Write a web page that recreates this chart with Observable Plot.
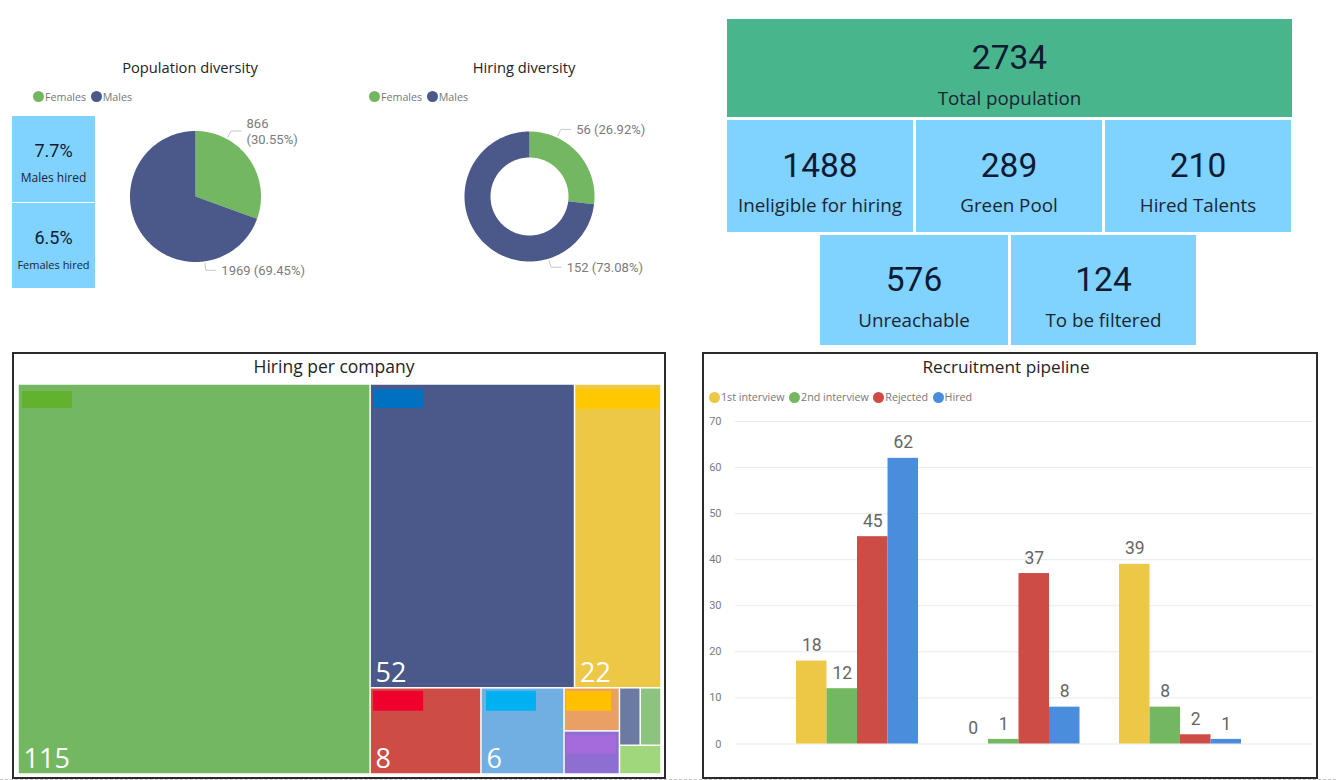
<!DOCTYPE html>
<html>
<head>
<meta charset="utf-8">
<script src="https://cdn.jsdelivr.net/npm/d3@7"></script>
<script src="https://cdn.jsdelivr.net/npm/@observablehq/plot@0.6"></script>
<style>
html,body{margin:0;padding:0;background:#fff;width:1336px;height:780px;overflow:hidden;}
body{font-family:"Open Sans","Noto Sans",sans-serif;position:relative;}
.abs{position:absolute;}
.title{text-align:center;color:#252423;white-space:nowrap;}
.frame{border:2px solid #2b2b2b;box-sizing:border-box;background:#fff;}
.legend{display:flex;align-items:center;font-size:10.7px;color:#777;white-space:nowrap;}
.legend i{display:inline-block;width:11px;height:11px;border-radius:50%;margin-right:1px;}
.legend span{margin-right:4.5px;}
.card{text-align:center;color:#111a33;box-sizing:border-box;}
.card .num{position:absolute;left:0;right:0;font-family:Roboto,sans-serif;line-height:1;transform:translateY(-50%);}
.card .lab{position:absolute;left:0;right:0;line-height:1;transform:translateY(-50%);white-space:nowrap;color:#1d2433;}
.fold{border-top:1px dashed #c4c4c4;}
svg{display:block;overflow:visible;}
</style>
</head>
<body>
<script>
// ---------- DATA ----------
const sexNames = ["Females", "Males"];
const sexColors = ["#73B761", "#4A588A"];
const populationValues = [866, 1969];
const populationLabels = ["866\n(30.55%)", "1969 (69.45%)"];
const hiringValues = [56, 152];
const hiringLabels = ["56 (26.92%)", "152 (73.08%)"];
const rateValues = ["7.7%", "6.5%"];
const rateNames = ["Males hired", "Females hired"];
const kpiValues = ["2734", "1488", "289", "210", "576", "124"];
const kpiNames = ["Total population", "Ineligible for hiring", "Green Pool", "Hired Talents", "Unreachable", "To be filtered"];
const companyValues = [115, 52, 22, 8, 6, 2, 2, 1, 1, 1];
const companyColors = ["#73B761", "#4A588A", "#ECC846", "#CD4C46", "#71AFE2", "#EA9F64", "#8D6FD1", "#6B7AA0", "#8CC37F", "#A0D67C"];
const companyMaskColors = ["#62B22F", "#0070C0", "#FFC800", "#F0002D", "#00B0F0", "#FFC000", "#A56BDC", null, null, null];
const stages = ["1st interview", "2nd interview", "Rejected", "Hired"];
const stageColors = ["#ECC846", "#73B761", "#CD4C46", "#4A8DDC"];
const firstInterview = [18, 0, 39];
const secondInterview = [12, 1, 8];
const rejected = [45, 37, 2];
const hired = [62, 8, 1];
const yTicks = [0, 10, 20, 30, 40, 50, 60, 70];

// ---------- LAYOUT HELPERS ----------
function place(el, x, y, w, h) {
  el.classList.add("abs");
  el.style.left = x + "px"; el.style.top = y + "px";
  if (w != null) el.style.width = w + "px";
  if (h != null) el.style.height = h + "px";
  document.body.appendChild(el);
  return el;
}
function div(cls, html) { const d = document.createElement("div"); d.className = cls; if (html) d.innerHTML = html; return d; }
function title(text, cx, cy, size) {
  const t = div("title", text); t.style.fontSize = size + "px"; t.style.lineHeight = "1";
  place(t, cx - 200, cy - size / 2 - 1, 400, size + 2);
}
function legend(names, colors, x, cy) {
  const l = div("legend", names.map((n, i) => `<i style="background:${colors[i]}"></i><span>${n}</span>`).join(""));
  place(l, x, cy - 8, null, 16);
}
function card(num, lab, color, x, y, w, h, numSize, labSize, numY, labY) {
  const c = div("card", `<div class="num" style="top:${numY}px;font-size:${numSize}px">${num}</div><div class="lab" style="top:${labY}px;font-size:${labSize}px">${lab}</div>`);
  c.style.background = color;
  place(c, x, y, w, h);
}

// ---------- FRAMES ----------
place(div("frame"), 12, 352, 654, 427);
place(div("frame"), 702, 352, 616, 427);
place(div("fold"), 0, 779, 1336, 0);

// ---------- KPI CARDS ----------
const sky = "#80D2FF";
card(kpiValues[0], kpiNames[0], "#48B58C", 727, 19, 565, 98, 33.5, 18.8, 39, 79);
card(kpiValues[1], kpiNames[1], sky, 727, 120, 186, 112, 33.5, 18.8, 46, 85);
card(kpiValues[2], kpiNames[2], sky, 916, 120, 186, 112, 33.5, 18.8, 46, 85);
card(kpiValues[3], kpiNames[3], sky, 1105, 120, 186, 112, 33.5, 18.8, 46, 85);
card(kpiValues[4], kpiNames[4], sky, 820, 235, 188, 110, 33.5, 18.8, 45, 84.5);
card(kpiValues[5], kpiNames[5], sky, 1011, 235, 185, 110, 33.5, 18.8, 45, 84.5);
card(rateValues[0], rateNames[0], sky, 12, 116, 83, 86, 18, 12, 34.5, 62);
card(rateValues[1], rateNames[1], sky, 12, 203, 83, 85, 18, 11, 35, 60.5);

// ---------- PIES ----------
function pie(values, labels, leaderDeg, cx, cy, outer, inner, box) {
  const total = d3.sum(values);
  let start = 0;
  const pts = [];
  values.forEach((v, i) => {
    const end = start + v / total * 360;
    const arc = d3.range(start, end, 1).concat([end]);
    const at = (deg, r) => ({x: r * Math.sin(deg * Math.PI / 180), y: -r * Math.cos(deg * Math.PI / 180), name: sexNames[i]});
    arc.forEach(a => pts.push(at(a, outer)));
    if (inner > 0) arc.slice().reverse().forEach(a => pts.push(at(a, inner)));
    else pts.push(at(0, 0));
    start = end;
  });
  const leaders = [], texts = [];
  leaderDeg.forEach((a, i) => {
    const s = Math.sin(a * Math.PI / 180), c = Math.cos(a * Math.PI / 180);
    const ex = (outer + 9) * s, ey = -(outer + 9) * c;
    leaders.push({x: (outer + 2) * s, y: -(outer + 2) * c, k: i});
    leaders.push({x: ex, y: ey, k: i});
    leaders.push({x: ex + 10, y: ey, k: i});
    texts.push({x: ex + 15.5, y: ey, t: labels[i]});
  });
  const svg = Plot.plot({
    width: box.w, height: box.h,
    margin: 0,
    x: {domain: [box.x - cx, box.x + box.w - cx], range: [0, box.w], axis: null},
    y: {domain: [box.y - cy, box.y + box.h - cy], range: [0, box.h], axis: null},
    color: {domain: sexNames, range: sexColors},
    style: {background: "transparent", overflow: "visible", fontFamily: "Roboto, sans-serif"},
    marks: [
      Plot.line(pts, {x: "x", y: "y", z: "name", fill: "name", stroke: "none"}),
      Plot.line(leaders, {x: "x", y: "y", z: "k", stroke: "#c8c8c8", strokeWidth: 1}),
      Plot.text(texts, {x: "x", y: "y", text: "t", textAnchor: "start", fontSize: 13, fill: "#7b7b7b", lineHeight: 1.18, style: {letterSpacing: "0.4px"}})
    ]
  });
  place(svg, box.x, box.y, box.w, box.h);
}
title("Population diversity", 190, 68, 14.7);
legend(sexNames, sexColors, 33, 96.5);
pie(populationValues, populationLabels, [28.5, 172], 195, 196, 65.5, 0, {x: 110, y: 110, w: 230, h: 180});
title("Hiring diversity", 524, 68, 14.7);
legend(sexNames, sexColors, 369, 96.5);
pie(hiringValues, hiringLabels, [25, 163], 529, 196, 65, 39, {x: 440, y: 110, w: 240, h: 180});

// ---------- TREEMAP ----------
title("Hiring per company", 334, 368, 17.5);
const H = (...children) => ({dir: "h", children});
const V = (...children) => ({dir: "v", children});
const leaf = i => ({i, value: companyValues[i]});
const tree = H(leaf(0), V(H(leaf(1), leaf(2)), H(leaf(3), leaf(4), H(V(leaf(5), leaf(6)), V(H(leaf(7), leaf(8)), leaf(9))))));
const tmW = 643, tmH = 390;
const cells = d3.treemap()
  .size([tmW, tmH])
  .tile((n, x0, y0, x1, y1) => (n.data.dir === "v" ? d3.treemapSlice : d3.treemapDice)(n, x0, y0, x1, y1))(
    d3.hierarchy(tree).sum(d => d.value || 0)
  ).leaves().map(d => ({i: d.data.i, value: d.data.value, x0: d.x0, x1: d.x1, y0: d.y0, y1: d.y1, color: companyColors[d.data.i]}));
// placement of the blanked-out logo blocks inside their cells
const maskLeft = [4, 3, 2, 3, 5, 2, 2];
const maskTop = [7, 5, 5, 3, 3, 3, 4];
const maskWide = [50, 50, 82, 50, 50, 45, 50];
const maskTall = [17, 19, 20, 20, 20, 20, 19];
const masks = cells.filter(c => companyMaskColors[c.i]).map(c => ({
  x1: c.x0 + maskLeft[c.i],
  x2: c.x0 + maskLeft[c.i] + maskWide[c.i],
  y1: c.y0 + maskTop[c.i],
  y2: c.y0 + maskTop[c.i] + maskTall[c.i],
  color: companyMaskColors[c.i]
}));
place(Plot.plot({
  width: tmW, height: tmH, margin: 0,
  x: {domain: [0, tmW], range: [0, tmW], axis: null},
  y: {domain: [0, tmH], range: [0, tmH], axis: null},
  color: {type: "identity"},
  style: {background: "transparent", fontFamily: "'Open Sans', sans-serif"},
  marks: [
    Plot.rect(cells, {x1: "x0", x2: "x1", y1: "y0", y2: "y1", fill: "color", inset: 0.75}),
    Plot.rect(masks, {x1: "x1", x2: "x2", y1: "y1", y2: "y2", fill: "color"}),
    Plot.text(cells.filter(c => c.i < 5), {x: d => d.x0 + 5, y: d => d.y1 - 15, text: "value", textAnchor: "start", fill: "#fff", fontSize: 27})
  ]
}), 18, 384, tmW, tmH);

// ---------- GROUPED BARS ----------
title("Recruitment pipeline", 1006, 368, 17.2);
legend(stages, stageColors, 709, 397);
const series = [firstInterview, secondInterview, rejected, hired];
const groupStep = 5.295; // bar widths between group starts
const rows = series.flatMap((vals, s) => vals.map((v, g) => ({
  x1: g * groupStep + s, x2: g * groupStep + s + 1, mid: g * groupStep + s + 0.5, value: v, stage: stages[s]
})));
place(Plot.plot({
  width: 613, height: 360,
  marginTop: 11, marginBottom: 26.5, marginLeft: 32, marginRight: 3,
  x: {domain: [-2, 16.95], axis: null},
  y: {domain: [0, 70], axis: null},
  color: {domain: stages, range: stageColors},
  style: {background: "transparent", fontFamily: "Roboto, sans-serif"},
  marks: [
    Plot.ruleY(yTicks, {stroke: "#e9e9e9", strokeWidth: 1}),
    Plot.axisY({ticks: yTicks, tickSize: 0, tickPadding: 14, label: null, fontSize: 11, color: "#7b7b7b"}),
    Plot.rectY(rows, {x1: "x1", x2: "x2", y1: 0, y2: "value", fill: "stage"}),
    Plot.text(rows, {x: "mid", y: "value", text: "value", dy: -15.5, fontSize: 17.5, fill: "#666", style: {letterSpacing: "0.5px"}})
  ]
}), 703, 410, 613, 360);
</script>
</body>
</html>
